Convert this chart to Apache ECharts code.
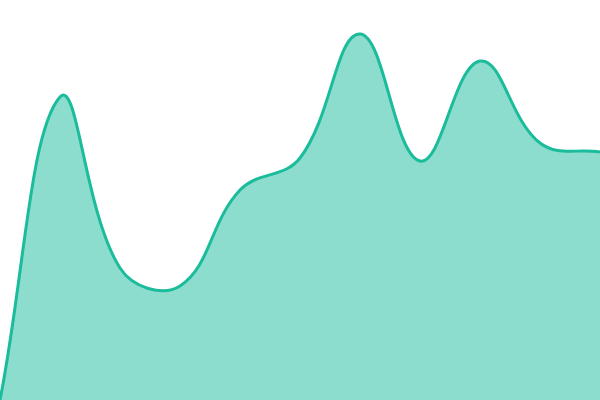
<!DOCTYPE html>
<html><head><meta charset="utf-8">
<script src="https://cdn.jsdelivr.net/npm/echarts@6/dist/echarts.min.js"></script>
<style>html,body{margin:0;padding:0;background:#fff}#c{width:600px;height:400px}</style>
</head><body><div id="c"></div>
<script>
const categories = ['0','1','2','3','4','5','6','7','8','9','10'];
const values = [0, 303, 132, 114, 210, 242, 366, 239, 339, 257, 248];

const chart = echarts.init(document.getElementById('c'));

// distance-weighted spline (tension 0.4), control points capped to the plot area
function splinePath(pts, tension, area) {
  const n = pts.length;
  const cps = [];
  for (let i = 0; i < n; i++) {
    const cur = pts[i], prev = pts[Math.max(i - 1, 0)], next = pts[Math.min(i + 1, n - 1)];
    const d01 = Math.hypot(cur[0] - prev[0], cur[1] - prev[1]);
    const d12 = Math.hypot(next[0] - cur[0], next[1] - cur[1]);
    let s01 = d01 / (d01 + d12), s12 = d12 / (d01 + d12);
    s01 = isNaN(s01) ? 0 : s01; s12 = isNaN(s12) ? 0 : s12;
    const fa = tension * s01, fb = tension * s12;
    const cap = (x, y) => [Math.min(Math.max(x, area.x0), area.x1), Math.min(Math.max(y, area.y0), area.y1)];
    cps.push({
      prev: cap(cur[0] - fa * (next[0] - prev[0]), cur[1] - fa * (next[1] - prev[1])),
      next: cap(cur[0] + fb * (next[0] - prev[0]), cur[1] + fb * (next[1] - prev[1]))
    });
  }
  let d = 'M' + pts[0][0] + ',' + pts[0][1];
  for (let i = 0; i < n - 1; i++) {
    const c1 = cps[i].next, c2 = cps[i + 1].prev, p = pts[i + 1];
    d += 'C' + c1[0] + ',' + c1[1] + ' ' + c2[0] + ',' + c2[1] + ' ' + p[0] + ',' + p[1];
  }
  return d;
}

chart.setOption({
  animation: false,
  grid: {left: 0, right: 0, top: 0, bottom: 0},
  xAxis: {type: 'category', data: categories, boundaryGap: false, show: false},
  yAxis: {type: 'value', min: 0, max: 400, show: false},
  series: [{
    type: 'custom',
    clip: false,
    data: values.map((v, i) => [i, v]),
    encode: {x: 0, y: 1},
    renderItem: function (params, api) {
      if (params.dataIndex !== 0) return null;
      const pts = values.map((v, i) => api.coord([i, v]));
      const tl = api.coord([0, values.length ? 400 : 0]);
      const br = api.coord([values.length - 1, 0]);
      const line = splinePath(pts, 0.4, {x0: tl[0], y0: tl[1], x1: br[0], y1: br[1]});
      const base = br[1];
      const last = pts[pts.length - 1], first = pts[0];
      const fillPath = line + 'L' + last[0] + ',' + base + 'L' + first[0] + ',' + base + 'Z';
      return {
        type: 'group',
        children: [
          {type: 'path', shape: {pathData: fillPath}, style: {fill: 'rgba(26,188,156,0.5)', stroke: 'none'}},
          {type: 'path', shape: {pathData: line}, style: {fill: 'none', stroke: '#1abc9c', lineWidth: 3}}
        ]
      };
    }
  }]
});
</script></body></html>
